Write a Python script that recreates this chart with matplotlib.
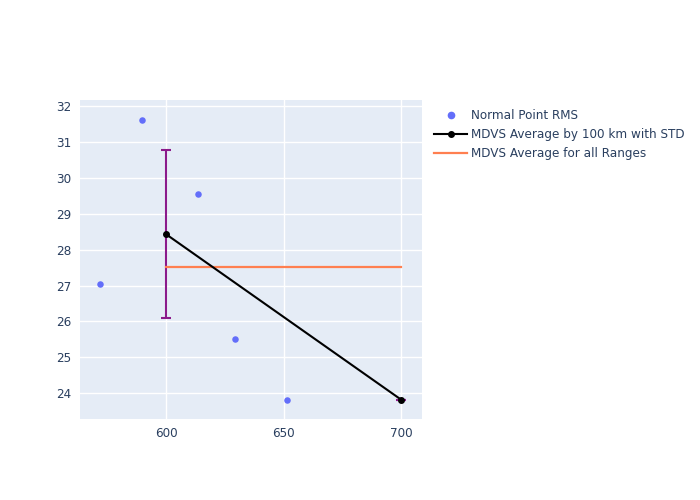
import matplotlib
matplotlib.use("Agg")
import matplotlib.pyplot as plt
from matplotlib.lines import Line2D

rms_x = [571.9, 589.8, 613.6, 629.4, 651.5]
rms_y = [27.05, 31.62, 29.56, 25.52, 23.82]
avg_x = [600, 700]
avg_y = [28.43, 23.82]
avg_std = [2.34, 0.0]
all_x = [600, 700]
all_y = [27.51, 27.51]
xticks = [600, 650, 700]
yticks = [24, 25, 26, 27, 28, 29, 30, 31, 32]

TXT = "#2a3f5f"
fs = 12 * 72 / 100

fig = plt.figure(figsize=(7, 5), dpi=100)
ax = fig.add_axes([80/700, 81/500, 342/700, 319/500])
ax.set_facecolor("#e5ecf6")
for s in ax.spines.values():
    s.set_visible(False)
ax.set_xlim(563.4, 708.9)
ax.set_ylim(23.28, 32.17)
ax.set_xticks(xticks)
ax.set_yticks(yticks)
ax.grid(True, color="white", linewidth=1)
ax.set_axisbelow(True)
ax.tick_params(length=0, labelsize=fs, labelcolor=TXT, pad=6)

ax.scatter(rms_x, rms_y, s=22, color="#636efa", zorder=3, linewidths=0)
ax.errorbar(avg_x, avg_y, yerr=avg_std, fmt="none", ecolor="#8b1a8b", elinewidth=1.5,
            capsize=3.5, capthick=1.5, zorder=3)
ax.plot(all_x, all_y, color="#ff7f50", linewidth=1.6, zorder=4)
ax.plot(avg_x, avg_y, color="black", linewidth=1.5, marker="o", markersize=4, zorder=5)

handles = [
    Line2D([], [], color="#636efa", marker="o", linestyle="none", markersize=4.5),
    Line2D([], [], color="black", marker="o", linewidth=1.5, markersize=4),
    Line2D([], [], color="#ff7f50", linewidth=1.6),
]
labels = ["Normal Point RMS", "MDVS Average by 100 km with STD", "MDVS Average for all Ranges"]
leg = fig.legend(handles, labels, loc="upper left", bbox_to_anchor=(429/700, 1 - 104/500),
                 frameon=False, fontsize=fs, labelcolor=TXT, handlelength=2.8,
                 handletextpad=0.3, labelspacing=0.5, borderaxespad=0)

fig.savefig("out.png", dpi=100)
